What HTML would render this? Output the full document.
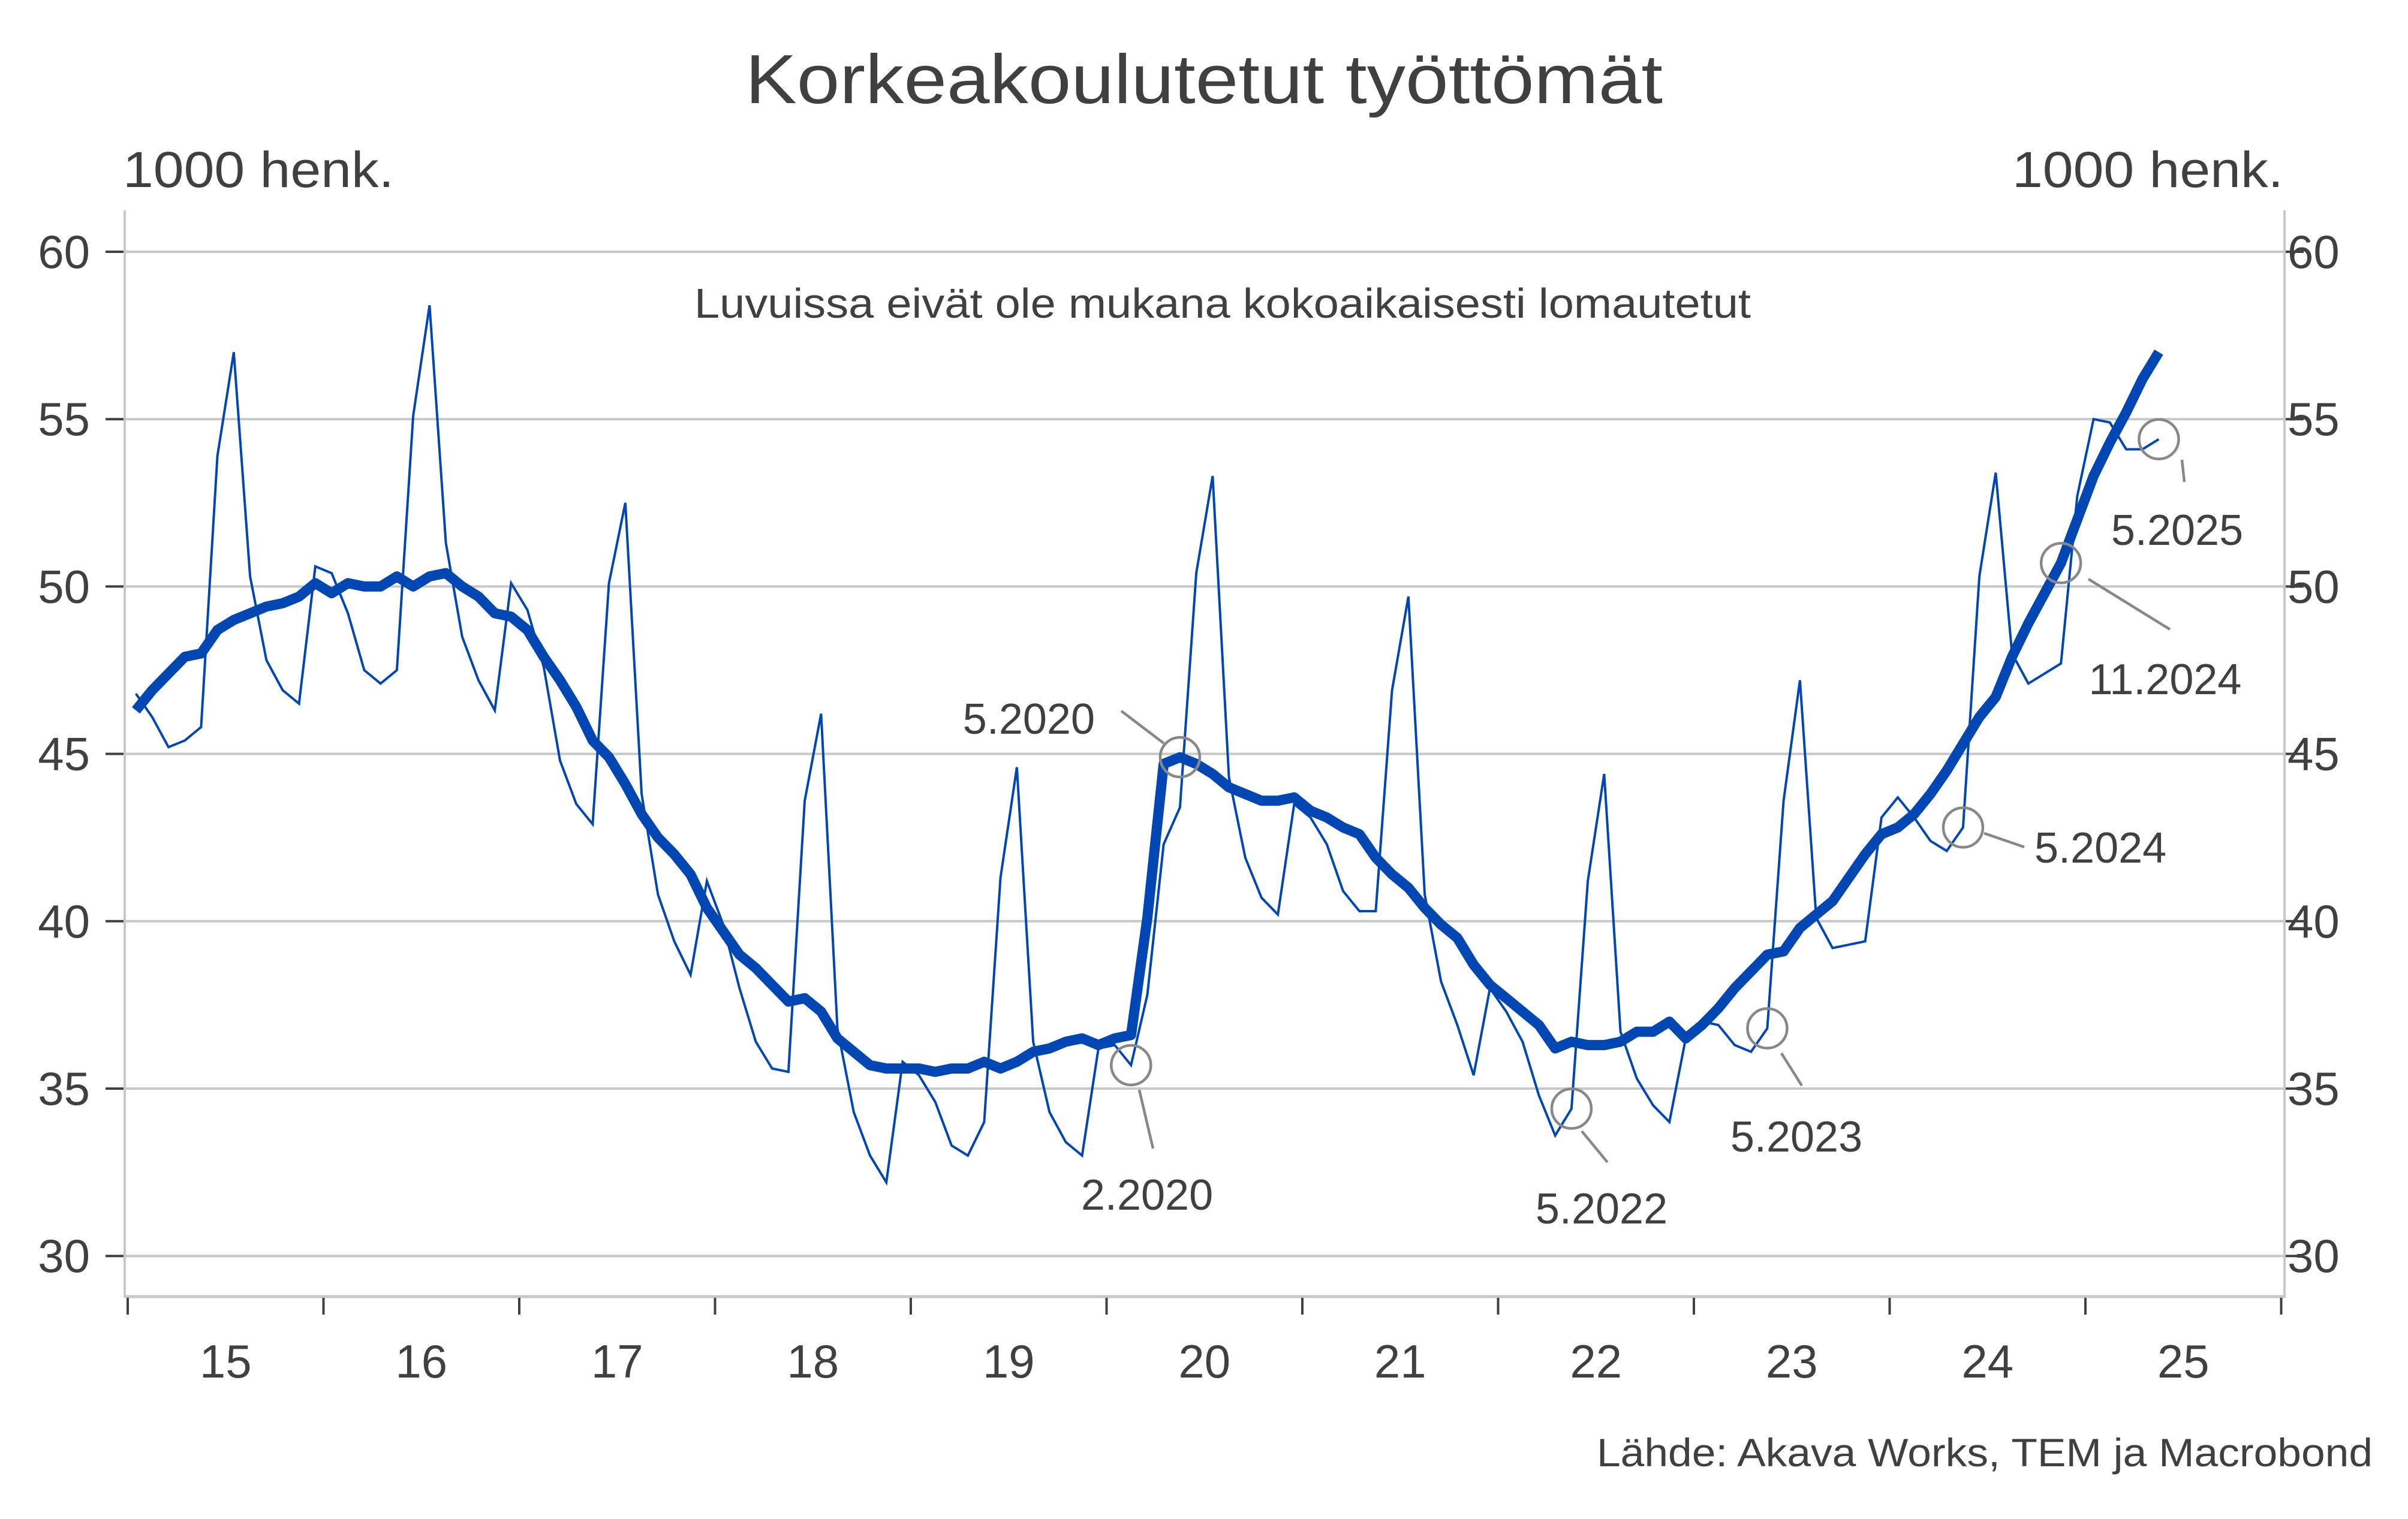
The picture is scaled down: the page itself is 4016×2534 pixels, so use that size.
<!DOCTYPE html>
<html><head><meta charset="utf-8"><style>
html,body{margin:0;padding:0;background:#fff;}
svg{display:block;}
text{font-family:"Liberation Sans",sans-serif;fill:#404040;}
</style></head><body>
<svg id="chart" width="4016" height="2534" viewBox="0 0 4016 2534" xmlns="http://www.w3.org/2000/svg">
<rect width="4016" height="2534" fill="#fff"/>
<text x="2008" y="172" font-size="116" text-anchor="middle" textLength="1530" lengthAdjust="spacingAndGlyphs">Korkeakoulutetut työttömät</text>
<text x="205" y="312" font-size="84" textLength="452" lengthAdjust="spacingAndGlyphs">1000 henk.</text>
<text x="3808" y="312" font-size="84" text-anchor="end" textLength="452" lengthAdjust="spacingAndGlyphs">1000 henk.</text>
<text x="2039" y="530" font-size="70" text-anchor="middle" textLength="1762" lengthAdjust="spacingAndGlyphs">Luvuissa eivät ole mukana kokoaikaisesti lomautetut</text>
<text x="3957" y="2446" font-size="66" text-anchor="end" textLength="1294" lengthAdjust="spacingAndGlyphs">Lähde: Akava Works, TEM ja Macrobond</text>
<g id="grid"></g><g id="axes"></g><g id="series"></g><g id="annot"></g>
</svg>
<script>
const yTicks=[30,35,40,45,50,55,60];
const xTickLabels=["15","16","17","18","19","20","21","22","23","24","25"];
const monthly=[46.8,46.1,45.2,45.4,45.8,53.9,57.0,50.3,47.8,46.9,46.5,50.6,
50.4,49.2,47.5,47.1,47.5,55.1,58.4,51.3,48.5,47.2,46.3,50.1,
49.3,47.6,44.8,43.5,42.9,50.1,52.5,43.8,40.8,39.4,38.4,41.2,
39.9,38.0,36.4,35.6,35.5,43.6,46.2,36.8,34.3,33.0,32.2,35.8,
35.4,34.6,33.3,33.0,34.0,41.3,44.6,36.4,34.3,33.4,33.0,36.2,
36.3,35.7,37.8,42.3,43.4,50.4,53.3,44.3,41.9,40.7,40.2,43.5,
43.1,42.3,40.9,40.3,40.3,46.9,49.7,40.8,38.2,36.9,35.4,38.0,
37.3,36.4,34.8,33.6,34.4,41.2,44.4,36.7,35.3,34.5,34.0,36.5,
37.0,36.9,36.3,36.1,36.8,43.6,47.2,40.1,39.2,39.3,39.4,43.1,
43.7,43.1,42.4,42.1,42.8,50.3,53.4,48.0,47.1,47.4,47.7,52.7,
55.0,54.9,54.1,54.1,54.4];
const trend=[46.3,46.9,47.4,47.9,48.0,48.7,49.0,49.2,49.4,49.5,49.7,50.1,
49.8,50.1,50.0,50.0,50.3,50.0,50.3,50.4,50.0,49.7,49.2,49.1,
48.7,47.9,47.2,46.4,45.4,44.9,44.1,43.2,42.5,42.0,41.4,40.4,
39.7,39.0,38.6,38.1,37.6,37.7,37.3,36.5,36.1,35.7,35.6,35.6,
35.6,35.5,35.6,35.6,35.8,35.6,35.8,36.1,36.2,36.4,36.5,36.3,
36.5,36.6,40.1,44.7,44.9,44.7,44.4,44.0,43.8,43.6,43.6,43.7,
43.3,43.1,42.8,42.6,41.9,41.4,41.0,40.4,39.9,39.5,38.7,38.1,
37.7,37.3,36.9,36.2,36.4,36.3,36.3,36.4,36.7,36.7,37.0,36.5,
36.9,37.4,38.0,38.5,39.0,39.1,39.8,40.2,40.6,41.3,42.0,42.6,
42.8,43.2,43.8,44.5,45.3,46.1,46.7,47.9,48.9,49.8,50.7,52.0,
53.3,54.3,55.2,56.2,57.0];
const annSeries=["trend","monthly","monthly","monthly","monthly","trend","monthly"];
const annIndex=[64,61,88,100,112,118,124];
const annLabels=["5.2020","2.2020","5.2022","5.2023","5.2024","11.2024","5.2025"];

const NS="http://www.w3.org/2000/svg";
const X0=213, YEARW=326.5, MONTHW=YEARW/12;
const PL=208, PR=3810;
function xPos(i){return X0+(i+0.5)*MONTHW;}
function yPos(v){return 420+(60-v)*55.84;}
function mk(tag,attrs,parent){const e=document.createElementNS(NS,tag);for(const k in attrs)e.setAttribute(k,attrs[k]);parent.appendChild(e);return e;}
const grid=document.getElementById('grid'),axes=document.getElementById('axes'),series=document.getElementById('series'),annot=document.getElementById('annot');

yTicks.forEach(v=>{
  const y=yPos(v);
  const g=mk('line',{x1:PL,x2:PR,y1:y,y2:y,stroke:'#c8c8c8','stroke-width':4},grid);
  
  
  const t1=mk('line',{x1:176,x2:207,y1:y,y2:y,stroke:'#404040','stroke-width':4},axes);
  
  
  const t2=mk('line',{x1:3811,x2:3842,y1:y,y2:y,stroke:'#404040','stroke-width':4},axes);
  
  
  const l1=mk('text',{x:150,y:y+27,'font-size':78,'text-anchor':'end'},axes);
  l1.textContent=v;
  
  
  const l2=mk('text',{x:3815,y:y+27,'font-size':78,'text-anchor':'start'},axes);
  l2.textContent=v;
  
  
});
const la=mk('line',{x1:PL,x2:PL,y1:351,y2:2165,stroke:'#c8c8c8','stroke-width':4},axes);


const ra=mk('line',{x1:PR,x2:PR,y1:351,y2:2165,stroke:'#c8c8c8','stroke-width':4},axes);


const xa=mk('line',{x1:PL,x2:PR,y1:2163,y2:2163,stroke:'#c8c8c8','stroke-width':5},axes);


for(let k=0;k<=xTickLabels.length;k++){
  const x=X0+k*YEARW;
  const t=mk('line',{x1:x,x2:x,y1:2165,y2:2193,stroke:'#404040','stroke-width':4},axes);
  
  
}
xTickLabels.forEach((s,k)=>{
  const t=mk('text',{x:X0+(k+0.5)*YEARW,y:2298,'font-size':78,'text-anchor':'middle'},axes);
  t.textContent=s;
  
  
});
function path(arr){return arr.map((v,i)=>(i?'L':'M')+xPos(i).toFixed(1)+','+yPos(v).toFixed(1)).join(' ');}
const pm=mk('path',{d:path(monthly),fill:'none',stroke:'#0047b3','stroke-width':4,'stroke-linejoin':'miter'},series);


const pt=mk('path',{d:path(trend),fill:'none',stroke:'#0047b3','stroke-width':17,'stroke-linejoin':'round'},series);



const leaders=[[1870,1186,1941,1240],[1900,1818,1923,1916],[2638,1887,2681,1939],[2971,1757,3005,1811],[3309,1390,3376,1413],[3483,966,3619,1050],[3639,767,3643,804]];
const labelPos=[[1826,1224,'end'],[1913,2018,'middle'],[2671,2041,'middle'],[2996,1921,'middle'],[3393,1439,'start'],[3611,1158,'middle'],[3631,909,'middle']];
annLabels.forEach((s,k)=>{
  const arr=annSeries[k]==='trend'?trend:monthly;
  const i=annIndex[k];
  const c=mk('circle',{cx:xPos(i),cy:yPos(arr[i]),r:33,fill:'none',stroke:'#888','stroke-width':4.5},annot);
  
  
  const L=leaders[k];
  const ln=mk('line',{x1:L[0],y1:L[1],x2:L[2],y2:L[3],stroke:'#888','stroke-width':4.5},annot);
  
  
  const P=labelPos[k];
  const t=mk('text',{x:P[0],y:P[1],'font-size':72,'text-anchor':P[2]},annot);
  t.textContent=s;
  
  
});
</script>
</body></html>
